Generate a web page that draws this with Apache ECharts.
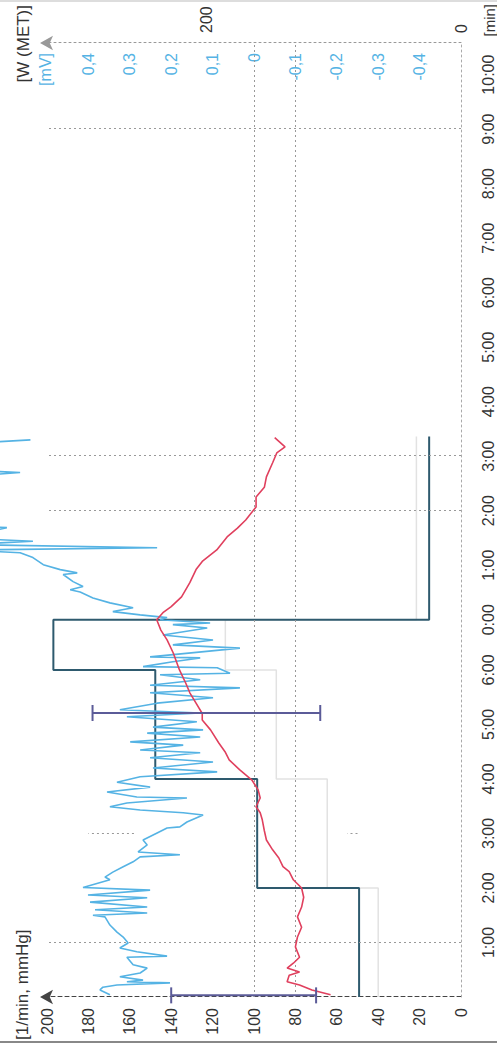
<!DOCTYPE html>
<html>
<head>
<meta charset="utf-8">
<script src="https://cdn.jsdelivr.net/npm/echarts@6/dist/echarts.min.js"></script>
<style>
  html, body { margin: 0; padding: 0; background: #fff; overflow: hidden; width: 497px; height: 1047px; }
  /* the printout is laid out on its side: draw landscape, then turn it a quarter left */
  #chart {
    position: absolute; left: 0; top: 0;
    width: 1047px; height: 497px;
    transform-origin: 0 0;
    transform: translate(0, 1047px) rotate(-90deg);
  }
</style>
</head>
<body>
<div id="chart"></div>
<script>
// Time in minutes since start of exercise; recovery starts at 6:55 (6.92 min)
const timeTicks  = [1, 2, 3, 4, 5, 6, 6.92, 7.92, 8.92, 9.92, 10.92, 11.92, 12.92, 13.92, 14.92, 15.92, 16.92];
const timeLabels = ['1:00', '2:00', '3:00', '4:00', '5:00', '6:00', '0:00', '1:00', '2:00', '3:00', '4:00', '5:00', '6:00', '7:00', '8:00', '9:00', '10:00'];
const gridTimes  = [1, 8.92, 9.92, 15.92];

const mvTicks = [-0.4, -0.3, -0.2, -0.1, 0, 0.1, 0.2, 0.3, 0.4];
const wTicks  = [0, 200];

// Workload steps [min, W]
const workload = [[0, 80], [2, 160], [4, 240], [6, 320], [6.92, 25], [10.28, 25]];
// Secondary (MET) steps, printed faintly [min, W-scale]
const metLevel = [[0, 65], [2, 105], [4, 145], [6, 185], [6.92, 35], [10.28, 35]];

// Heart rate [min, 1/min]
const heartRate = [
  [0.04, 63], [0.13, 72], [0.22, 78], [0.28, 84], [0.40, 83], [0.46, 78], [0.53, 84], [0.62, 81],
  [0.73, 78], [0.92, 80], [1.10, 79], [1.28, 77], [1.47, 79], [1.65, 77], [1.83, 76], [2.00, 77],
  [2.15, 81], [2.30, 83], [2.39, 86], [2.55, 88], [2.70, 91], [2.88, 94], [3.05, 95], [3.25, 96],
  [3.38, 97], [3.49, 99], [3.65, 97], [3.80, 98], [3.98, 101], [4.17, 107], [4.35, 112], [4.50, 114],
  [4.66, 117], [4.90, 121], [5.08, 125], [5.20, 125], [5.39, 128], [5.58, 131], [5.76, 133], [6.00, 136],
  [6.31, 139], [6.55, 142], [6.73, 145], [6.92, 147], [7.05, 144], [7.16, 140], [7.34, 135], [7.60, 131],
  [7.84, 128], [7.99, 125], [8.20, 118], [8.44, 113], [8.60, 108], [8.75, 104], [8.99, 99], [9.17, 99],
  [9.35, 95], [9.54, 94], [9.80, 91], [9.98, 89], [10.09, 85], [10.26, 90]
];

// ST level [min, mV]
const stLevel = [
  [0.04, 0.348], [0.13, 0.372], [0.18, 0.365], [0.22, 0.331], [0.26, 0.203], [0.28, 0.307], [0.31, 0.268],
  [0.37, 0.324], [0.44, 0.275], [0.53, 0.258], [0.59, 0.292], [0.73, 0.307], [0.75, 0.210], [0.83, 0.283],
  [0.90, 0.324], [0.99, 0.304], [1.10, 0.316], [1.19, 0.331], [1.32, 0.348], [1.47, 0.360], [1.50, 0.389],
  [1.54, 0.258], [1.60, 0.384], [1.65, 0.258], [1.74, 0.396], [1.82, 0.258], [1.87, 0.401], [1.96, 0.251],
  [2.01, 0.413], [2.15, 0.348], [2.20, 0.360], [2.29, 0.341], [2.39, 0.316], [2.48, 0.292], [2.57, 0.275],
  [2.61, 0.179], [2.66, 0.280], [2.79, 0.258], [2.88, 0.268], [3.01, 0.234], [3.10, 0.210], [3.12, 0.179],
  [3.21, 0.162], [3.34, 0.123], [3.38, 0.171], [3.43, 0.275], [3.49, 0.348], [3.56, 0.307], [3.65, 0.162],
  [3.67, 0.283], [3.76, 0.355], [3.85, 0.251], [3.94, 0.331], [4.04, 0.275], [4.13, 0.089], [4.20, 0.244],
  [4.31, 0.099], [4.39, 0.251], [4.48, 0.130], [4.53, 0.275], [4.62, 0.171], [4.68, 0.299], [4.77, 0.130],
  [4.84, 0.258], [4.90, 0.123], [4.95, 0.244], [5.05, 0.138], [5.14, 0.307], [5.21, 0.130], [5.27, 0.324],
  [5.39, 0.234], [5.49, 0.099], [5.58, 0.251], [5.67, 0.034], [5.72, 0.251], [5.82, 0.130], [5.91, 0.227],
  [5.94, 0.058], [6.04, 0.089], [6.06, 0.268], [6.15, 0.196], [6.22, 0.130], [6.24, 0.251], [6.40, 0.034],
  [6.46, 0.196], [6.55, 0.099], [6.64, 0.220], [6.77, 0.113], [6.83, 0.196], [6.86, 0.106], [6.92, 0.227],
  [6.96, 0.210], [7.01, 0.275], [7.07, 0.341], [7.14, 0.292], [7.23, 0.348], [7.32, 0.389], [7.43, 0.420],
  [7.47, 0.444], [7.53, 0.413], [7.62, 0.437], [7.75, 0.461], [7.78, 0.427], [7.84, 0.468], [7.93, 0.509],
  [8.06, 0.534], [8.15, 0.565], [8.20, 0.700], [8.24, 0.234], [8.30, 0.700], [8.36, 0.534], [8.42, 0.700],
  [8.61, 0.597], [8.66, 0.700], [9.55, 0.700], [9.62, 0.565], [9.67, 0.700], [10.15, 0.700], [10.22, 0.540]
];

// Blood pressure [min, systolic, diastolic]
const bloodPressure = [[0.03, 140, 70], [5.21, 178, 68]];

const TEXT = '#333';
const FONT = '"Liberation Sans", Arial, sans-serif';
const ST_BLUE = '#55b3e4';

const chart = echarts.init(document.getElementById('chart'), null, { renderer: 'svg' });

chart.setOption({
  animation: false,
  backgroundColor: '#fff',
  grid: { left: 50, right: 43, top: 47, bottom: 36 },
  xAxis: {
    type: 'value', min: 0, max: 17.5,
    axisLine: { show: true, lineStyle: { color: '#aaa', type: [2, 3], width: 1 } },
    axisTick: { show: false },
    splitLine: { show: false },
    axisLabel: {
      customValues: timeTicks, margin: 19, fontSize: 16, color: TEXT, fontFamily: FONT,
      formatter: v => {
        const i = timeTicks.findIndex(t => Math.abs(t - v) < 1e-6);
        return i >= 0 ? timeLabels[i] : '';
      }
    }
  },
  yAxis: [
    { // heart rate / blood pressure
      type: 'value', position: 'left', min: 0, max: 200, interval: 20,
      axisLine: { show: true, symbol: ['none', 'arrow'], symbolSize: [11, 13], symbolOffset: [0, 7],
        lineStyle: { color: '#444', type: [4, 3], width: 1 } },
      axisTick: { show: false }, splitLine: { show: false },
      axisLabel: { margin: 11, fontSize: 16, color: TEXT, fontFamily: FONT }
    },
    { // workload
      type: 'value', position: 'right', min: 0, max: 325,
      axisLine: { show: true, symbol: ['none', 'arrow'], symbolSize: [11, 13], symbolOffset: [0, 7],
        lineStyle: { color: '#999', type: [2, 3], width: 1 } },
      axisTick: { show: false }, splitLine: { show: false },
      axisLabel: { customValues: wTicks, margin: 10, fontSize: 16, color: TEXT, fontFamily: FONT }
    },
    { // ST level
      type: 'value', position: 'right', min: -0.5, max: 0.5,
      axisLine: { show: false }, axisTick: { show: false }, splitLine: { show: false },
      axisLabel: {
        inside: true, customValues: mvTicks, margin: 10, fontSize: 16, color: ST_BLUE, fontFamily: FONT,
        formatter: v => (Math.abs(v) < 1e-9 ? '0' : v.toFixed(1).replace('.', ','))
      }
    }
  ],
  series: [
    { // dotted grid
      type: 'line', yAxisIndex: 2, data: [], silent: true, symbol: 'none',
      markLine: {
        silent: true, symbol: 'none', label: { show: false },
        lineStyle: { color: '#999', type: [2, 3], width: 1 },
        data: [
          ...gridTimes.map(t => ({ xAxis: t })),
          { yAxis: 0 }, { yAxis: -0.1 },
          [{ coord: [3, 0.29] }, { coord: [3, 0.40] }],
          [{ coord: [3, -0.25] }, { coord: [3, -0.225] }]
        ]
      }
    },
    {
      name: 'MET', type: 'line', yAxisIndex: 1, data: metLevel, step: 'end', symbol: 'none',
      lineStyle: { color: '#e2e2e2', width: 1.5 }
    },
    {
      name: 'W', type: 'line', yAxisIndex: 1, data: workload, step: 'end', symbol: 'none',
      lineStyle: { color: '#2e5a6e', width: 2 }, z: 3
    },
    {
      name: 'ST', type: 'line', yAxisIndex: 2, data: stLevel, symbol: 'none', clip: false,
      lineStyle: { color: ST_BLUE, width: 1.6 }, z: 4
    },
    {
      name: 'HF', type: 'line', yAxisIndex: 0, data: heartRate, symbol: 'none',
      lineStyle: { color: '#e0405e', width: 1.6 }, z: 5
    },
    {
      name: 'RR', type: 'custom', yAxisIndex: 0, data: bloodPressure, z: 6,
      encode: { x: 0, y: [1, 2] },
      renderItem: (params, api) => {
        const t = api.value(0);
        const a = api.coord([t, api.value(1)]);
        const b = api.coord([t, api.value(2)]);
        const c = 8;
        const style = { stroke: '#5b5b98', lineWidth: 2 };
        return {
          type: 'group',
          children: [
            { type: 'line', shape: { x1: a[0], y1: a[1], x2: b[0], y2: b[1] }, style },
            { type: 'line', shape: { x1: a[0] - c, y1: a[1], x2: a[0] + c, y2: a[1] }, style },
            { type: 'line', shape: { x1: b[0] - c, y1: b[1], x2: b[0] + c, y2: b[1] }, style }
          ]
        };
      }
    }
  ],
  graphic: [
    { type: 'text', style: { x: 7, y: 22, text: '[1/min, mmHg]', font: '17px ' + FONT, fill: TEXT, align: 'left', verticalAlign: 'middle' } },
    { type: 'text', style: { x: 1042, y: 23, text: '[W (MET)]', font: '17px ' + FONT, fill: TEXT, align: 'right', verticalAlign: 'middle' } },
    { type: 'text', style: { x: 994, y: 45, text: '[mV]', font: '16px ' + FONT, fill: ST_BLUE, align: 'right', verticalAlign: 'middle' } },
    { type: 'text', style: { x: 1043, y: 489, text: '[min]', font: '15px ' + FONT, fill: TEXT, align: 'right', verticalAlign: 'middle' } },
    { type: 'line', shape: { x1: 5, y1: 0, x2: 5, y2: 497 }, style: { stroke: '#888', lineWidth: 2 } },
    { type: 'line', shape: { x1: 1046, y1: 0, x2: 1046, y2: 497 }, style: { stroke: '#ddd', lineWidth: 2 } }
  ]
});
</script>
</body>
</html>
